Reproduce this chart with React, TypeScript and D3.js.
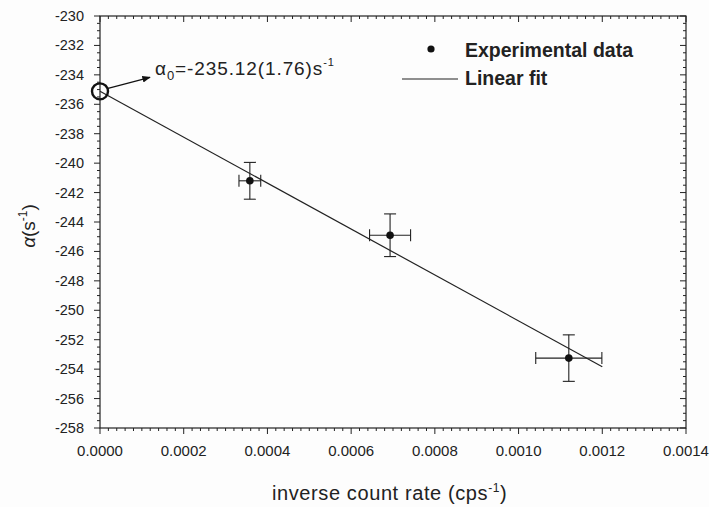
import React, { useEffect, useRef } from 'react';
import * as d3 from 'd3';

// measured points (inverse count rate, alpha) with their error bars
const invRate = [0.000358, 0.000693, 0.00112];
const alpha = [-241.2, -244.9, -253.25];
const xErr = [0.000026, 0.000049, 0.000079];
const yErr = [1.25, 1.45, 1.58];

// linear fit: alpha = a0 + slope * x
const fitX = [0, 0.0012];
const fitIntercept = -235.12;
const fitSlope = -15600;

const xTicks = [0, 0.0002, 0.0004, 0.0006, 0.0008, 0.001, 0.0012, 0.0014];
const yTicks = d3.range(-230, -259, -2);

const App: React.FC = () => {
  const svgRef = useRef<SVGSVGElement>(null);

  useEffect(() => {
    if (!svgRef.current) return;
    const svg = d3.select(svgRef.current);
    svg.selectAll('*').remove();

    const width = 709;
    const height = 507;
    const margin = { top: 16, right: 23, bottom: 79, left: 100 };
    const ink = '#222';
    const font = '"Liberation Sans", Arial, sans-serif';

    const x = d3.scaleLinear().domain([0, 0.0014]).range([margin.left, width - margin.right]);
    const y = d3.scaleLinear().domain([-258, -230]).range([height - margin.bottom, margin.top]);

    svg.append('rect').attr('width', width).attr('height', height).attr('fill', '#fdfdfd');

    const x0 = x(0), x1 = x(0.0014), y0 = y(-258), y1 = y(-230);

    // frame
    svg.append('rect')
      .attr('x', x0).attr('y', y1)
      .attr('width', x1 - x0).attr('height', y0 - y1)
      .attr('fill', 'none').attr('stroke', ink).attr('stroke-width', 1.2);

    const xMinor = d3.range(0, 0.00140001, 0.00002);
    const yMinor = d3.range(-258, -229.99, 0.5);

    const ticks = svg.append('g').attr('stroke', ink).attr('stroke-width', 1);
    // bottom + top
    xMinor.forEach((v) => {
      const major = xTicks.some((t) => Math.abs(t - v) < 1e-9);
      const len = major ? 6 : 3;
      ticks.append('line').attr('x1', x(v)).attr('x2', x(v)).attr('y1', y0).attr('y2', y0 + len);
      ticks.append('line').attr('x1', x(v)).attr('x2', x(v)).attr('y1', y1).attr('y2', y1 + len);
    });
    // left + right
    yMinor.forEach((v) => {
      const major = yTicks.some((t) => Math.abs(t - v) < 1e-9);
      const len = major ? 6 : 3;
      ticks.append('line').attr('y1', y(v)).attr('y2', y(v)).attr('x1', x0).attr('x2', x0 - len);
      ticks.append('line').attr('y1', y(v)).attr('y2', y(v)).attr('x1', x1).attr('x2', x1 - len);
    });

    svg.append('g')
      .selectAll('text')
      .data(xTicks)
      .enter()
      .append('text')
      .attr('x', (d) => x(d))
      .attr('y', y0 + 28)
      .attr('text-anchor', 'middle')
      .attr('font-family', font)
      .attr('font-size', 15)
      .attr('fill', ink)
      .text((d) => d.toFixed(4));

    svg.append('g')
      .selectAll('text')
      .data(yTicks)
      .enter()
      .append('text')
      .attr('x', x0 - 16)
      .attr('y', (d) => y(d) + 5)
      .attr('text-anchor', 'end')
      .attr('font-family', font)
      .attr('font-size', 14.5)
      .attr('fill', ink)
      .text((d) => d);

    // axis titles
    svg.append('text')
      .attr('x', 272)
      .attr('y', 500)
      .attr('font-family', font)
      .attr('font-size', 20)
      .attr('letter-spacing', 0.6)
      .attr('fill', ink)
      .html('inverse count rate (cps<tspan dy="-8" font-size="12">-1</tspan><tspan dy="8">)</tspan>');

    svg.append('text')
      .attr('transform', `translate(35,${226}) rotate(-90)`)
      .attr('text-anchor', 'middle')
      .attr('font-family', font)
      .attr('font-size', 19)
      .attr('fill', ink)
      .html('<tspan font-style="italic">α</tspan>(s<tspan dy="-8" font-size="12">-1</tspan><tspan dy="8">)</tspan>');

    // linear fit
    const line = d3.line<number>()
      .x((d) => x(d))
      .y((d) => y(fitIntercept + fitSlope * d));
    svg.append('path')
      .datum(fitX)
      .attr('d', line)
      .attr('fill', 'none')
      .attr('stroke', ink)
      .attr('stroke-width', 1.2);

    // error bars
    const pts = invRate.map((v, i) => ({ x: v, y: alpha[i], ex: xErr[i], ey: yErr[i] }));
    const eb = svg.append('g').attr('stroke', ink).attr('stroke-width', 1.1);
    const cap = 6;
    pts.forEach((p) => {
      eb.append('line').attr('x1', x(p.x - p.ex)).attr('x2', x(p.x + p.ex)).attr('y1', y(p.y)).attr('y2', y(p.y));
      eb.append('line').attr('x1', x(p.x - p.ex)).attr('x2', x(p.x - p.ex)).attr('y1', y(p.y) - cap).attr('y2', y(p.y) + cap);
      eb.append('line').attr('x1', x(p.x + p.ex)).attr('x2', x(p.x + p.ex)).attr('y1', y(p.y) - cap).attr('y2', y(p.y) + cap);
      eb.append('line').attr('x1', x(p.x)).attr('x2', x(p.x)).attr('y1', y(p.y - p.ey)).attr('y2', y(p.y + p.ey));
      eb.append('line').attr('x1', x(p.x) - cap).attr('x2', x(p.x) + cap).attr('y1', y(p.y - p.ey)).attr('y2', y(p.y - p.ey));
      eb.append('line').attr('x1', x(p.x) - cap).attr('x2', x(p.x) + cap).attr('y1', y(p.y + p.ey)).attr('y2', y(p.y + p.ey));
    });
    svg.append('g')
      .selectAll('circle')
      .data(pts)
      .enter()
      .append('circle')
      .attr('cx', (d) => x(d.x))
      .attr('cy', (d) => y(d.y))
      .attr('r', 3.8)
      .attr('fill', '#111');

    // intercept annotation
    const cx = x(0), cy = y(fitIntercept);
    svg.append('circle')
      .attr('cx', cx).attr('cy', cy).attr('r', 8)
      .attr('fill', 'none').attr('stroke', '#111').attr('stroke-width', 2.4);

    svg.append('defs').append('marker')
      .attr('id', 'arrow')
      .attr('viewBox', '0 0 10 10')
      .attr('refX', 9).attr('refY', 5)
      .attr('markerWidth', 7).attr('markerHeight', 7)
      .attr('orient', 'auto')
      .append('path').attr('d', 'M0,1 L10,5 L0,9 Z').attr('fill', '#111');
    svg.append('line')
      .attr('x1', cx + 8).attr('y1', cy - 3)
      .attr('x2', cx + 50).attr('y2', cy - 14)
      .attr('stroke', '#111').attr('stroke-width', 1.2)
      .attr('marker-end', 'url(#arrow)');

    svg.append('text')
      .attr('x', 155)
      .attr('y', 75)
      .attr('font-family', font)
      .attr('font-size', 19)
      .attr('letter-spacing', 0.9)
      .attr('fill', ink)
      .html('α<tspan dy="5" font-size="13">0</tspan><tspan dy="-5">=-235.12(1.76)s</tspan><tspan dy="-9" font-size="11">-1</tspan>');

    // legend
    svg.append('circle').attr('cx', 431).attr('cy', 49).attr('r', 3.6).attr('fill', '#111');
    svg.append('line')
      .attr('x1', 402).attr('x2', 458).attr('y1', 79).attr('y2', 79)
      .attr('stroke', ink).attr('stroke-width', 1.2);
    svg.append('text')
      .attr('x', 465).attr('y', 57)
      .attr('font-family', font).attr('font-size', 19.5).attr('font-weight', 'bold')
      .attr('fill', ink)
      .text('Experimental data');
    svg.append('text')
      .attr('x', 465).attr('y', 85)
      .attr('font-family', font).attr('font-size', 19.5).attr('font-weight', 'bold')
      .attr('fill', ink)
      .text('Linear fit');
  }, []);

  return (
    <svg
      ref={svgRef}
      width={709}
      height={507}
      style={{ position: 'absolute', left: 0, top: 0 }}
    />
  );
};

export default App;
